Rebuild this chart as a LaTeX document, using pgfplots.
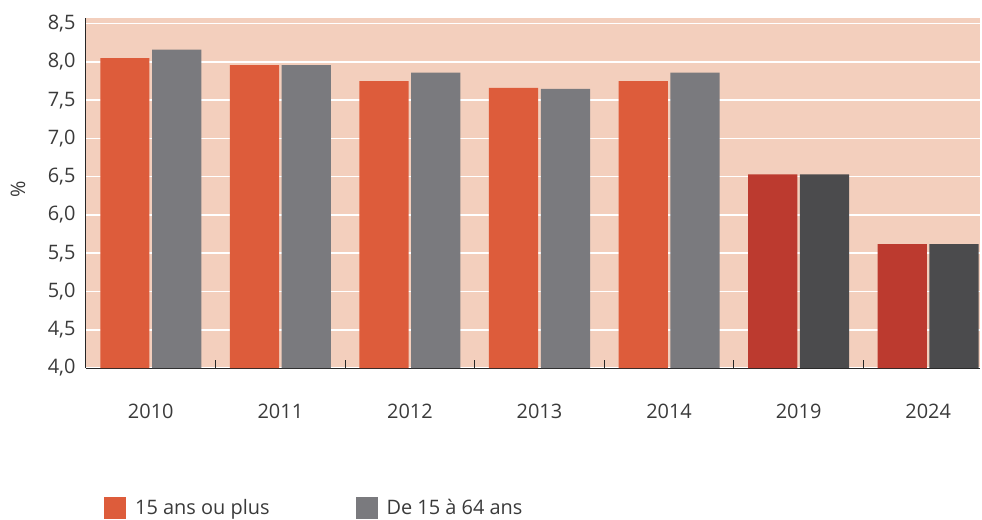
\documentclass[border=0pt]{standalone}
\usepackage{pgfplots}
\pgfplotsset{compat=1.18}
\usepackage{fontspec}
\setmainfont{Open Sans}
\definecolor{bgpeach}{HTML}{F3CFBD}
\definecolor{orangeA}{HTML}{DD5C3B}
\definecolor{grayA}{HTML}{7A7A7E}
\definecolor{redB}{HTML}{BC3A2F}
\definecolor{grayB}{HTML}{4B4B4D}
\definecolor{txt}{HTML}{3A3A3A}
\begin{document}
\begin{tikzpicture}
\begin{axis}[
  name=ax, at={(0,0)}, anchor=south west,
  scale only axis, width=894bp, height=350bp,
  xmin=-0.5, xmax=6.4, ymin=4, ymax=8.575,
  axis lines*=left,
  axis line style={draw=black!85, line width=1bp},
  axis background/.style={fill=bgpeach},
  ymajorgrids, grid style={white, line width=1.5bp},
  xtick={0,1,2,3,4,5,6},
  xticklabels={2010,2011,2012,2013,2014,2019,2024},
  xtick style={draw=none},
  ytick style={draw=none},
  extra x ticks={0.5,1.5,2.5,3.5,4.5,5.5},
  extra x tick labels={},
  extra x tick style={xtick style={draw=black!85, line width=0.8bp}, major tick length=8bp, tick align=inside},
  ytick={4,4.5,5,5.5,6,6.5,7,7.5,8,8.5},
  yticklabel style={xshift=-7bp, /pgf/number format/.cd, fixed, fixed zerofill, precision=1, use comma},
  /pgf/number format/assume math mode=true,
  tick label style={font=\fontsize{20}{24}\selectfont, text=txt},
  xticklabel style={yshift=-33bp},
  ylabel={\%},
  ylabel style={at={(axis description cs:-0.076,0.51)}, anchor=center, font=\fontsize{20}{24}\selectfont, text=txt},
  legend columns=2,
  legend cell align=left,
  legend style={at={(axis description cs:0,0)}, anchor=west, xshift=18bp, yshift=-140bp,
    draw=none, fill=none, inner sep=0pt, font=\fontsize{20}{24}\selectfont, text=txt,
    /tikz/every odd column/.append style={column sep=7bp},
    /tikz/every even column/.append style={column sep=84bp}},
  legend image code/.code={\fill[#1] (0bp,-11bp) rectangle (22bp,11bp);},
]
\addplot[ybar, bar width=0.38, bar shift=-0.2, fill=orangeA, draw=none]
  coordinates {(0,8.05) (1,7.96) (2,7.75) (3,7.66) (4,7.75)};
\addlegendentry{15 ans ou plus}
\addplot[ybar, bar width=0.38, bar shift=0.2, fill=grayA, draw=none]
  coordinates {(0,8.16) (1,7.96) (2,7.86) (3,7.65) (4,7.86)};
\addlegendentry{De 15 à 64 ans}
\addplot[ybar, bar width=0.38, bar shift=-0.2, fill=redB, draw=none, forget plot]
  coordinates {(5,6.53) (6,5.62)};
\addplot[ybar, bar width=0.38, bar shift=0.2, fill=grayB, draw=none, forget plot]
  coordinates {(5,6.53) (6,5.62)};
\end{axis}
\path (ax.south west) ++(-86bp,-152bp) rectangle ++(982bp,520bp);
\end{tikzpicture}
\end{document}
